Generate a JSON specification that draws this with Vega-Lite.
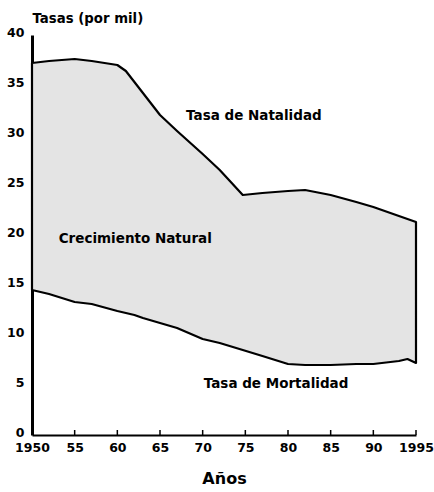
{
  "$schema": "https://vega.github.io/schema/vega-lite/v6.json",
  "autosize": "none",
  "width": 384,
  "height": 400,
  "padding": {"left": 32, "top": 35, "right": 18, "bottom": 57},
  "background": "white",
  "config": {
    "view": {"stroke": null},
    "font": "DejaVu Sans",
    "axis": {"grid": false, "labelFont": "DejaVu Sans", "titleFont": "DejaVu Sans", "labelColor": "black", "titleColor": "black", "domainColor": "black", "tickColor": "black"}
  },
  "datasets": {
    "tasas": [
      {"anio": 1950, "natalidad": 37.2, "mortalidad": 14.5},
      {"anio": 1952, "natalidad": 37.4, "mortalidad": 14.1},
      {"anio": 1955, "natalidad": 37.6, "mortalidad": 13.3},
      {"anio": 1957, "natalidad": 37.4, "mortalidad": 13.1},
      {"anio": 1960, "natalidad": 37.0, "mortalidad": 12.4},
      {"anio": 1961, "natalidad": 36.4, "mortalidad": 12.2},
      {"anio": 1962, "natalidad": 35.3, "mortalidad": 12.0},
      {"anio": 1963, "natalidad": 34.2, "mortalidad": 11.7},
      {"anio": 1965, "natalidad": 32.0, "mortalidad": 11.2},
      {"anio": 1967, "natalidad": 30.4, "mortalidad": 10.7},
      {"anio": 1970, "natalidad": 28.1, "mortalidad": 9.6},
      {"anio": 1972, "natalidad": 26.5, "mortalidad": 9.2},
      {"anio": 1974.7, "natalidad": 24.0, "mortalidad": 8.5},
      {"anio": 1977, "natalidad": 24.2, "mortalidad": 7.9},
      {"anio": 1980, "natalidad": 24.4, "mortalidad": 7.1},
      {"anio": 1982, "natalidad": 24.5, "mortalidad": 7.0},
      {"anio": 1985, "natalidad": 24.0, "mortalidad": 7.0},
      {"anio": 1988, "natalidad": 23.3, "mortalidad": 7.1},
      {"anio": 1990, "natalidad": 22.8, "mortalidad": 7.1},
      {"anio": 1993, "natalidad": 21.9, "mortalidad": 7.4},
      {"anio": 1994, "natalidad": 21.6, "mortalidad": 7.6},
      {"anio": 1995, "natalidad": 21.3, "mortalidad": 7.2}
    ],
    "etiquetas": [
      {"anio": 1976.0, "valor": 31.9, "texto": "Tasa de Natalidad"},
      {"anio": 1962.1, "valor": 19.6, "texto": "Crecimiento Natural"},
      {"anio": 1978.6, "valor": 5.1, "texto": "Tasa de Mortalidad"}
    ],
    "marcas": [
      {"anio": 1955, "base": 0, "alto": 0.5},
      {"anio": 1960, "base": 0, "alto": 0.5},
      {"anio": 1965, "base": 0, "alto": 0.5},
      {"anio": 1970, "base": 0, "alto": 0.5},
      {"anio": 1975, "base": 0, "alto": 0.5},
      {"anio": 1980, "base": 0, "alto": 0.5},
      {"anio": 1985, "base": 0, "alto": 0.5},
      {"anio": 1990, "base": 0, "alto": 0.5},
      {"anio": 1995, "base": 0, "alto": 0.5}
    ]
  },
  "layer": [
    {
      "data": {"name": "tasas"},
      "mark": {"type": "area", "fill": "#e4e4e4", "stroke": "black", "strokeWidth": 2.2, "strokeJoin": "round"},
      "encoding": {
        "x": {
          "field": "anio", "type": "quantitative",
          "scale": {"domain": [1950, 1995], "nice": false, "zero": false},
          "axis": {
            "values": [1950, 1955, 1960, 1965, 1970, 1975, 1980, 1985, 1990, 1995],
            "labelExpr": "datum.value == 1950 || datum.value == 1995 ? '' + datum.value : substring('' + datum.value, 2)",
            "labelFontSize": 12.5, "labelFontWeight": "bold", "labelPadding": 6,
            "ticks": false, "domainWidth": 2.2,
            "labelFlush": false,
            "title": "Años", "titleFontSize": 16, "titleFontWeight": "bold",
            "titleBaseline": "middle", "titleY": 43
          }
        },
        "y": {
          "field": "natalidad", "type": "quantitative",
          "scale": {"domain": [0, 40], "nice": false},
          "axis": {
            "values": [0, 5, 10, 15, 20, 25, 30, 35, 40],
            "labelFontSize": 12.5, "labelFontWeight": "bold", "labelPadding": 8,
            "labelOffset": -3,
            "ticks": false, "domainWidth": 3,
            "title": "Tasas (por mil)", "titleAngle": 0, "titleAlign": "left",
            "titleBaseline": "middle", "titleX": 0, "titleY": -17,
            "titleFontSize": 13.3, "titleFontWeight": "bold"
          }
        },
        "y2": {"field": "mortalidad"}
      }
    },
    {
      "data": {"name": "marcas"},
      "mark": {"type": "rule", "color": "black", "strokeWidth": 1.5},
      "encoding": {
        "x": {"field": "anio", "type": "quantitative"},
        "y": {"field": "base", "type": "quantitative"},
        "y2": {"field": "alto"}
      }
    },
    {
      "data": {"name": "etiquetas"},
      "mark": {"type": "text", "font": "DejaVu Sans", "fontWeight": "bold", "fontSize": 13.5, "align": "center", "baseline": "middle", "color": "black"},
      "encoding": {
        "x": {"field": "anio", "type": "quantitative"},
        "y": {"field": "valor", "type": "quantitative"},
        "text": {"field": "texto"}
      }
    }
  ]
}
